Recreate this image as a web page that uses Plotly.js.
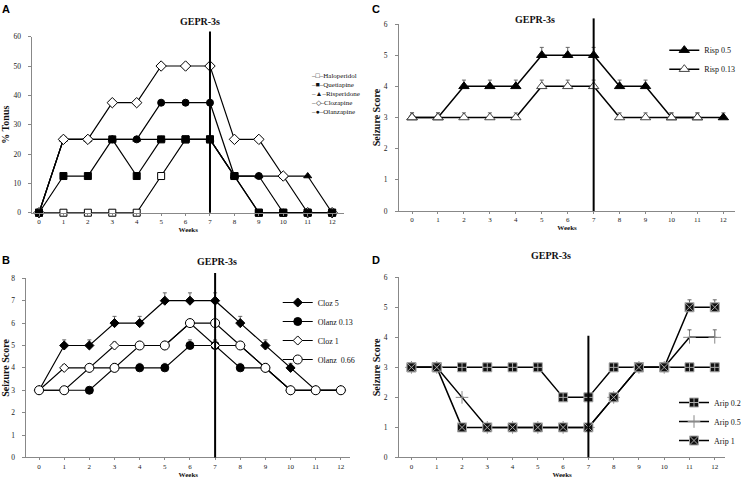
<!DOCTYPE html>
<html>
<head>
<meta charset="utf-8">
<script src="https://cdn.plot.ly/plotly-3.0.1.min.js"></script>
<style>
  body { margin: 0; background: #fff; }
  #grafico { width: 746px; height: 482px; }
</style>
</head>
<body>
<div id="grafico"></div>
<script>
// Semanas do estudo (eixo x de todos os painéis)
const weeks = [0, 1, 2, 3, 4, 5, 6, 7, 8, 9, 10, 11, 12];
const treatmentEndWeek = 7;
const endLineTopD = 4.05; // no painel D a linha vertical só vai até ~4

// Painel A - % Tonus
const haloperidol = [0, 0, 0, 0, 0, 12.5, 25, 25, 12.5, 0, 0, 0, 0];
const quetiapine  = [0, 12.5, 12.5, 25, 12.5, 25, 25, 25, 12.5, 0, 0, 0, 0];
const risperidone = [0, 25, 25, 25, 25, 25, 25, 25, 12.5, 12.5, 12.5, 12.5, 0];
const clozapine   = [0, 25, 25, 37.5, 37.5, 50, 50, 50, 25, 25, 12.5, 0, 0];
const olanzapine  = [0, 25, 25, 25, 25, 37.5, 37.5, 37.5, 12.5, 12.5, 0, 0, 0];
const legendANames  = ['Haloperidol', 'Quetiapine', 'Risperidone', 'Clozapine', 'Olanzapine'];
const legendAGlyphs = ['□', '■', '▲', '◇', '●'];

// Painel B - Seizure Score
const cloz5      = [3, 5, 5, 6, 6, 7, 7, 7, 6, 5, 4, 3, 3];
const cloz5Err   = [null, 0.25, 0.25, 0.3, 0.3, 0.35, 0.35, 0.35, 0.3, 0.25, 0.2, null, null];
const olanz013   = [3, 3, 3, 4, 4, 4, 5, 5, 4, 4, 3, 3, 3];
const olanz013Err = [null, null, null, 0.2, 0.2, 0.2, 0.25, 0.25, 0.2, 0.2, null, null, null];
const cloz1      = [3, 4, 4, 5, 5, 5, 6, 5, 5, 4, 3, 3, 3];
const cloz1Err   = [null, 0.15, 0.15, 0.15, 0.15, 0.15, 0.15, 0.2, 0.15, 0.15, null, null, null];
const olanz066   = [3, 3, 4, 4, 5, 5, 6, 6, 5, 4, 3, 3, 3];

// Painel C - Seizure Score
const risp05     = [3, 3, 4, 4, 4, 5, 5, 5, 4, 4, 3, 3, 3];
const risp05Err  = [0.15, 0.15, 0.2, 0.2, 0.2, 0.25, 0.25, 0.25, 0.2, 0.2, 0.15, 0.15, 0.15];
const risp013    = [3, 3, 3, 3, 3, 4, 4, 4, 3, 3, 3, 3, null];
const risp013Err = [0.15, 0.15, 0.15, 0.15, 0.15, 0.2, 0.2, 0.2, 0.15, 0.15, 0.15, 0.15, null];

// Painel D - Seizure Score
const arip02   = [3, 3, 3, 3, 3, 3, 2, 2, 3, 3, 3, 3, 3];
const arip05   = [3, 3, 2, 1, 1, 1, 1, 1, 2, 3, 3, 4, 4];
const arip1    = [3, 3, 1, 1, 1, 1, 1, 1, 2, 3, 3, 5, 5];
const aripErr  = [null, null, null, null, null, null, null, null, null, null, null, 0.25, 0.25];

const serif = 'Liberation Serif, Times New Roman, serif';

function serie(y, name, xa, ya, symbol, fill, size, opts) {
    opts = opts || {};
    const t = {
        x: weeks, y: y, name: name,
        xaxis: xa, yaxis: ya,
        type: 'scatter', mode: 'lines+markers',
        line: { color: '#000', width: opts.lw || 1.2 },
        marker: {
            symbol: symbol, size: size, color: fill,
            line: { color: opts.mline || '#000', width: 1 }
        },
        showlegend: !!opts.legend,
        legend: opts.legend,
        cliponaxis: false
    };
    if (opts.err) {
        t.error_y = {
            type: 'data', symmetric: false, array: opts.err,
            arrayminus: opts.err.map(() => 0),
            color: '#666', thickness: 1, width: 2
        };
    }
    return t;
}

const data = [
    // A
    serie(haloperidol, 'Haloperidol', 'x', 'y', 'square', '#fff', 7),
    serie(risperidone, 'Risperidone', 'x', 'y', 'triangle-up', '#000', 7),
    serie(olanzapine, 'Olanzapine', 'x', 'y', 'circle', '#000', 7),
    serie(clozapine, 'Clozapine', 'x', 'y', 'diamond', '#fff', 8),
    serie(quetiapine, 'Quetiapine', 'x', 'y', 'square', '#000', 7),
    // B
    serie(cloz5, 'Cloz 5', 'x2', 'y2', 'diamond', '#000', 7, { legend: 'legend2', err: cloz5Err }),
    serie(olanz013, 'Olanz 0.13', 'x2', 'y2', 'circle', '#000', 8, { legend: 'legend2', err: olanz013Err }),
    serie(cloz1, 'Cloz 1', 'x2', 'y2', 'diamond', '#fff', 7, { legend: 'legend2', err: cloz1Err }),
    serie(olanz066, 'Olanz  0.66', 'x2', 'y2', 'circle', '#fff', 9, { legend: 'legend2' }),
    // C
    serie(risp05, 'Risp 0.5', 'x3', 'y3', 'triangle-up', '#000', 9, { legend: 'legend3', err: risp05Err, lw: 1.5 }),
    serie(risp013, 'Risp 0.13', 'x3', 'y3', 'triangle-up', '#fff', 9, { legend: 'legend3', err: risp013Err, lw: 1.5, mline: '#444' }),
    // D
    serie(arip02, 'Arip 0.2', 'x4', 'y4', 'square-cross', '#111', 9, { legend: 'legend4', lw: 1.5, mline: '#aaa' }),
    serie(arip05, 'Arip 0.5', 'x4', 'y4', 'cross-thin', '#888', 9, { legend: 'legend4', lw: 1.5, mline: '#888', err: aripErr }),
    serie(arip1, 'Arip 1', 'x4', 'y4', 'square-x', '#111', 9, { legend: 'legend4', lw: 1.5, mline: '#aaa', err: aripErr })
];

function xAxis(domain, range, anchor) {
    return {
        domain: domain, range: range, anchor: anchor,
        tickvals: weeks, ticks: 'outside', ticklen: 2, tickcolor: '#888',
        showline: true, linecolor: '#888', linewidth: 1,
        showgrid: false, zeroline: false,
        tickfont: { family: serif, size: 7, color: '#222' },
        title: { text: '<b>Weeks</b>', font: { family: serif, size: 7, color: '#111' }, standoff: 0 }
    };
}

function yAxis(domain, range, anchor, titulo) {
    return {
        domain: domain, range: range, anchor: anchor, dtick: range[1] > 10 ? 10 : 1,
        ticks: 'outside', ticklen: 3, tickcolor: '#888', ticklabelstandoff: 6,
        showline: true, linecolor: '#888', linewidth: 1,
        showgrid: false, zeroline: false,
        tickfont: { family: serif, size: 7.5, color: '#222' },
        title: { text: '<b>' + titulo + '</b>', font: { family: serif, size: 10, color: '#111' }, standoff: 1 }
    };
}

function endLine(xref, yref, y0, y1) {
    return {
        type: 'line', xref: xref, yref: yref,
        x0: treatmentEndWeek, x1: treatmentEndWeek, y0: y0, y1: y1,
        line: { color: '#000', width: 2 }
    };
}

function painelTitulo(x, y) {
    return {
        text: '<b>GEPR-3s</b>', xref: 'paper', yref: 'paper', x: x, y: y,
        showarrow: false, font: { family: serif, size: 10, color: '#111' }
    };
}

function letra(txt, x, y) {
    return {
        text: '<b>' + txt + '</b>', xref: 'paper', yref: 'paper', x: x, y: y,
        xanchor: 'left', yanchor: 'top', showarrow: false,
        font: { family: 'Liberation Sans, Arial, sans-serif', size: 11, color: '#000' }
    };
}

const legendaA = legendANames.map((n, i) => '–' + legendAGlyphs[i] + '–' + n).join('<br>');

const legendBase = {
    font: { family: serif, size: 8, color: '#111' },
    bgcolor: 'rgba(0,0,0,0)', itemwidth: 30, xanchor: 'left', yanchor: 'top'
};

const layout = {
    width: 746, height: 482,
    margin: { l: 0, r: 0, t: 0, b: 0 },
    paper_bgcolor: '#fff', plot_bgcolor: '#fff',
    xaxis:  xAxis([0.0438, 0.465], [-0.27, 12.49], 'y'),
    yaxis:  yAxis([0.5587, 0.9239], [0, 60], 'x', '% Tonus'),
    xaxis2: xAxis([0.0358, 0.4732], [-0.5, 12.37], 'y2'),
    yaxis2: yAxis([0.051, 0.4226], [0, 8], 'x2', 'Seizure Score'),
    xaxis3: xAxis([0.5393, 0.9933], [-0.5, 12.45], 'y3'),
    yaxis3: yAxis([0.5622, 0.9502], [0, 6], 'x3', 'Seizure Score'),
    xaxis4: xAxis([0.5393, 0.9799], [-0.49, 12.41], 'y4'),
    yaxis4: yAxis([0.051, 0.4247], [0, 6], 'x4', 'Seizure Score'),
    legend2: Object.assign({ x: 0.3753, y: 0.4025 }, legendBase),
    legend3: Object.assign({ x: 0.8977, y: 0.926 }, legendBase),
    legend4: Object.assign({ x: 0.9111, y: 0.195 }, legendBase),
    shapes: [
        endLine('x', 'y domain', 0, 1.03),
        endLine('x2', 'y2 domain', 0, 1.03),
        endLine('x3', 'y3 domain', 0, 1.03),
        endLine('x4', 'y4', 0, endLineTopD)
    ],
    annotations: [
        painelTitulo(0.241, 0.971),
        painelTitulo(0.264, 0.457),
        painelTitulo(0.753, 0.975),
        painelTitulo(0.774, 0.469),
        letra('A', 0.0, 0.998),
        letra('B', 0.0, 0.478),
        letra('C', 0.5, 0.998),
        letra('D', 0.5, 0.478),
        {
            text: legendaA, xref: 'paper', yref: 'paper', x: 0.418, y: 0.855,
            xanchor: 'left', yanchor: 'top', align: 'left', showarrow: false,
            font: { family: serif, size: 7, color: '#111' }
        }
    ]
};

// Desenha os quatro painéis na div 'grafico'
Plotly.newPlot('grafico', data, layout, { staticPlot: true });
</script>
</body>
</html>
